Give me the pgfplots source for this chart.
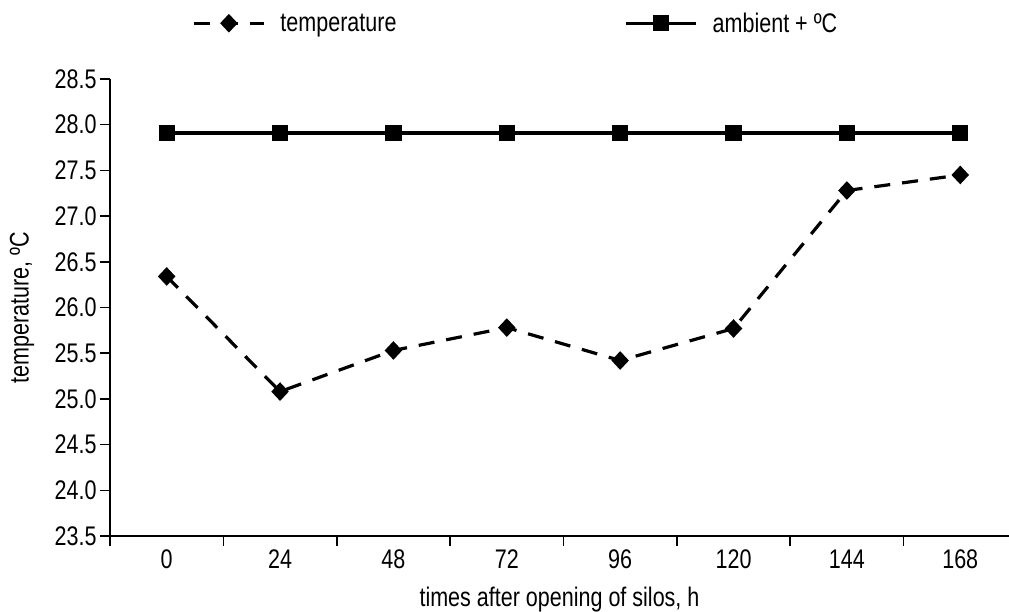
\documentclass[border=0pt]{standalone}
\usepackage{pgfplots}
\pgfplotsset{compat=1.18}
\usepackage{fontspec}
\setmainfont[FakeStretch=0.8]{Liberation Sans}
\begin{document}
\begin{tikzpicture}
\begin{axis}[
  scale only axis,
  width=899bp, height=457bp,
  xmin=-0.5, xmax=7.43,
  ymin=23.5, ymax=28.5,
  axis x line*=bottom, axis y line*=left,
  axis line style={line width=1.8bp},
  every tick/.style={black, line width=1.6bp},
  tick align=outside,
  xtick={0,...,7},
  xticklabels={0,24,48,72,96,120,144,168},
  major x tick style={draw=none},
  minor xtick={-0.5,0.5,1.5,2.5,3.5,4.5,5.5,6.5},
  minor tick length=10bp,
  major tick length=10bp,
  ytick={23.5,24,24.5,25,25.5,26,26.5,27,27.5,28,28.5},
  yticklabel style={/pgf/number format/.cd, fixed, fixed zerofill, precision=1},
  /pgf/number format/assume math mode=true,
  tick label style={font=\fontsize{27}{30}\selectfont},
  label style={font=\fontsize{27}{30}\selectfont},
  xlabel={times after opening of silos, h},
  ylabel={temperature, ºC},
  xlabel style={at={(rel axis cs:0.5,0)}, anchor=center, yshift=-64bp},
  ylabel style={at={(rel axis cs:0,0.5)}, anchor=center, yshift=88bp},
  clip=false,
  legend columns=2,
  legend style={draw=none, fill=none, font=\fontsize{27}{30}\selectfont,
    at={(0.088,1.122)}, anchor=west,
    /tikz/every odd column/.append style={column sep=13bp},
    /tikz/every even column/.append style={column sep=226bp}},
  legend image code/.code={\draw[mark repeat=2,mark phase=2,#1] plot coordinates {(0bp,0bp)(35bp,0bp)(70bp,0bp)};},
]
\addplot[black, line width=3.2bp, dash pattern=on 16bp off 12bp, mark=diamond*, mark size=7bp, mark options={solid, xscale=1.25}]
  coordinates {(0,26.34) (1,25.08) (2,25.53) (3,25.78) (4,25.42) (5,25.77) (6,27.28) (7,27.45)};
\addlegendentry{temperature}
\addplot[black, line width=3.2bp, mark=square*, mark size=6.5bp, mark options={solid}]
  coordinates {(0,27.91) (1,27.91) (2,27.91) (3,27.91) (4,27.91) (5,27.91) (6,27.91) (7,27.91)};
\addlegendentry{ambient + ºC}
\end{axis}
\pgfresetboundingbox
\path[use as bounding box] (current axis.south west) ++(-110bp,-76bp) rectangle ([yshift=79bp]current axis.north east);
\end{tikzpicture}
\end{document}
